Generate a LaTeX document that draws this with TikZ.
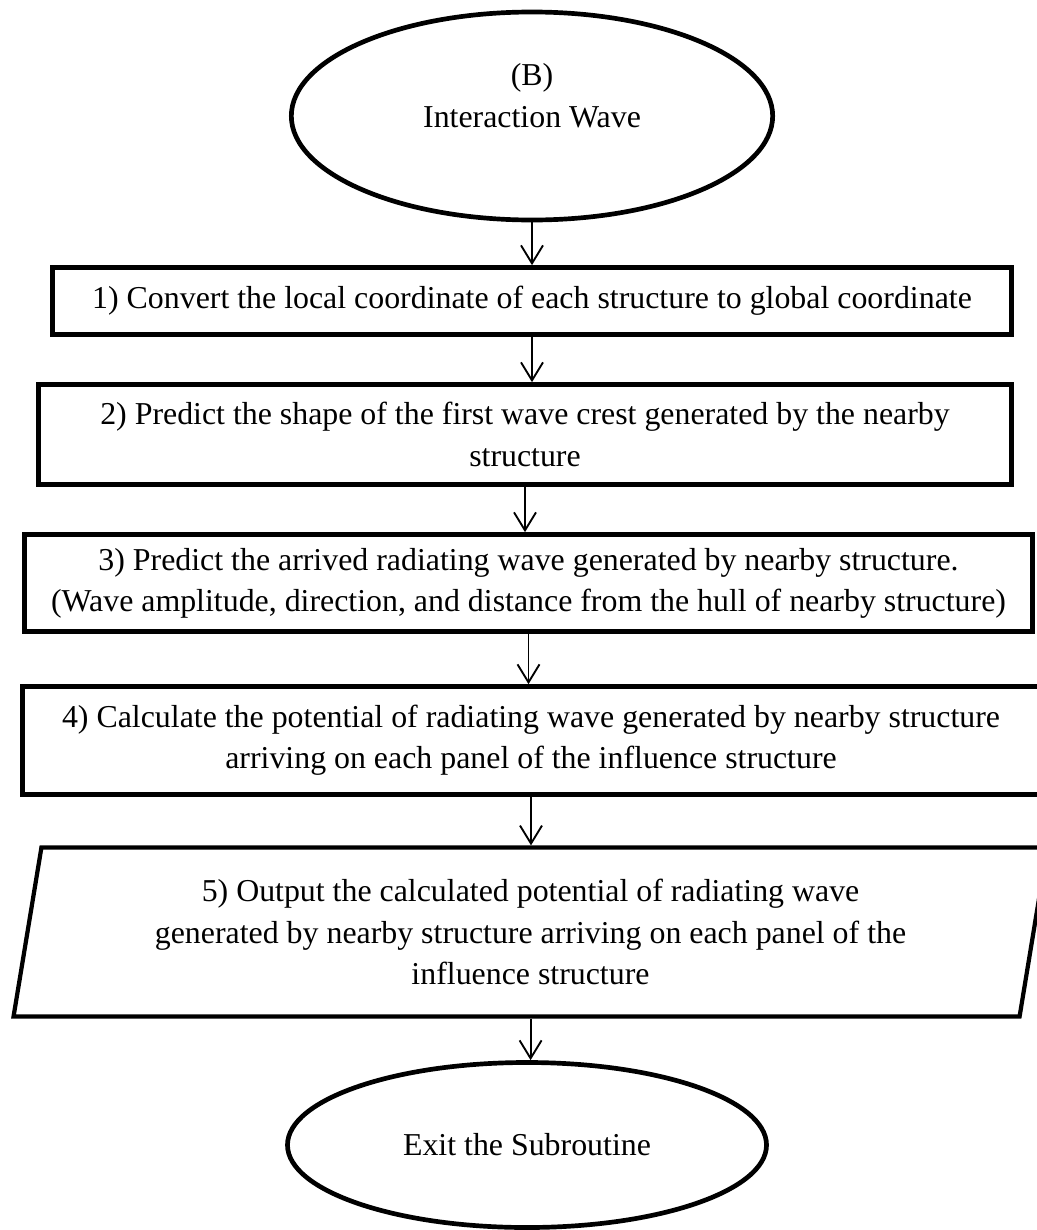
\documentclass[tikz,border=0pt]{standalone}
\usepackage{fontspec}
\setmainfont{Liberation Serif}
\usetikzlibrary{arrows.meta, shapes.geometric}

\begin{document}
\begin{tikzpicture}[x=0.015cm, y=-0.015cm,
    font=\fontsize{13.6}{17.6}\selectfont,
    terminal/.style={draw, line width=2pt, ellipse, inner sep=0pt, align=center},
    process/.style={draw, line width=2pt, rectangle, inner sep=0pt, align=center},
    io/.style={draw, line width=1.8pt, trapezium, trapezium left angle=78.5,
               trapezium right angle=101.5, trapezium stretches=true,
               inner sep=0pt, align=center},
    flow/.style={-{Straight Barb[length=2.7mm, width=3.3mm]}, line width=0.8pt}]
  \useasboundingbox (0,0) rectangle (1036,1230);

  % Start of the subroutine
  \node[terminal, minimum width=7.22cm, minimum height=3.12cm] (start) at (532,116)
    {(B)\\Interaction Wave\\\mbox{}};

  % Steps
  \node[process, minimum width=14.385cm, minimum height=1.005cm] (convert) at (532,301)
    {1) Convert the local coordinate of each structure to global coordinate};
  \node[process, minimum width=14.595cm, minimum height=1.5cm] (crest) at (525,434.5)
    {2) Predict the shape of the first wave crest generated by the nearby\\structure};
  \node[process, minimum width=15.12cm, minimum height=1.455cm] (radiate) at (528.5,583)
    {3) Predict the arrived radiating wave generated by nearby structure.\\(Wave amplitude, direction, and distance from the hull of nearby structure)};
  \node[process, minimum width=15.255cm, minimum height=1.62cm] (potential) at (531,740.5)
    {4) Calculate the potential of radiating wave generated by nearby structure\\arriving on each panel of the influence structure};

  % Output
  \node[io, minimum width=15.54cm, minimum height=2.535cm] (output) at (530.5,932)
    {5) Output the calculated potential of radiating wave\\generated by nearby structure arriving on each panel of the\\influence structure};

  % End
  \node[terminal, minimum width=7.185cm, minimum height=2.475cm] (stop) at (527,1145)
    {Exit the Subroutine};

  \draw[flow] (start.south) -- (start.south |- convert.north);
  \draw[flow] (convert.south) -- (convert.south |- crest.north);
  \draw[flow] (crest.south) -- (crest.south |- radiate.north);
  \draw[flow] (radiate.south) -- (radiate.south |- potential.north);
  \draw[flow] (potential.south) -- (potential.south |- output.north);
  \draw[flow] (output.south) -- (output.south |- stop.north);
\end{tikzpicture}
\end{document}
